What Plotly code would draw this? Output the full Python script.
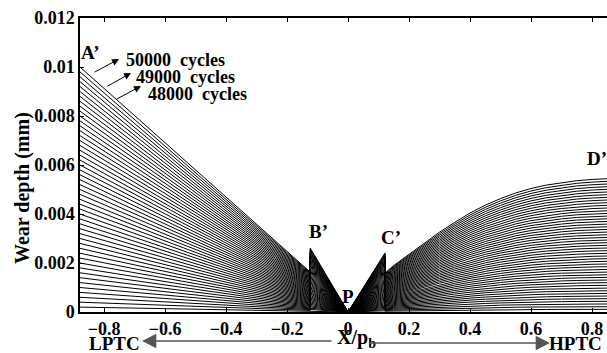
import plotly.graph_objects as go

# ---- data ----
cycles = list(range(1000, 50001, 1000))          # 50 wear curves, 1000 ... 50000 cycles
max_cycles = 50000
# profile of the 50000-cycle curve (X/p_b, wear depth mm)
base_x = [-0.879, -0.124, -0.124, 0.0, 0.121, 0.121, 0.15, 0.2, 0.25, 0.3, 0.35,
          0.4, 0.45, 0.5, 0.55, 0.6, 0.65, 0.7, 0.75, 0.8, 0.879]
base_y = [0.0100, 0.00163, 0.00261, 0.0, 0.00241, 0.00159, 0.00190, 0.00236, 0.00283,
          0.00326, 0.00366, 0.00404, 0.00436, 0.00463, 0.00486, 0.00504, 0.00518,
          0.00528, 0.00536, 0.00541, 0.00546]

x_tickvals = [-0.8, -0.6, -0.4, -0.2, 0, 0.2, 0.4, 0.6, 0.8]
x_ticktext = ["\u22120.8", "\u22120.6", "\u22120.4", "\u22120.2", "0", "0.2", "0.4", "0.6", "0.8"]
y_tickvals = [0, 0.002, 0.004, 0.006, 0.008, 0.01, 0.012]
y_ticktext = ["0", "0.002", "0.004", "0.006", "0.008", "0.01", "0.012"]

point_labels = ["A\u2019", "B\u2019", "C\u2019", "P", "D\u2019"]
point_label_px = [(90, 52), (318, 232), (391, 237), (348, 296), (597, 158)]
cycle_labels = ["50000\u00a0\u00a0cycles", "49000\u00a0\u00a0cycles", "48000\u00a0\u00a0cycles"]

FONT = "Liberation Serif"
W, H = 607, 353
L, R, T, B = 80, 0, 18, 41
PW, PH = W - L - R, H - T - B


def px2paper(px, py):
    return (px - L) / PW, (H - B - py) / PH


def b(t):
    return "<b>" + t + "</b>"


fig = go.Figure()
for c in cycles:
    f = c / max_cycles
    fig.add_trace(go.Scatter(x=base_x, y=[v * f for v in base_y], mode="lines",
                             line=dict(color="black", width=1), showlegend=False,
                             hoverinfo="skip"))

ann = []


def text_ann(t, px, py, size=19, xanchor="center", angle=0):
    xp, yp = px2paper(px, py)
    ann.append(dict(x=xp, y=yp, xref="paper", yref="paper", text=b(t), showarrow=False,
                    xanchor=xanchor, yanchor="middle", textangle=angle,
                    font=dict(family=FONT, size=size, color="black")))


def arrow_ann(hx, hy, tx, ty, size, width, color):
    xp, yp = px2paper(hx, hy)
    ann.append(dict(x=xp, y=yp, xref="paper", yref="paper", text="", showarrow=True,
                    ax=tx - hx, ay=ty - hy, arrowhead=2, arrowsize=size,
                    arrowwidth=width, arrowcolor=color))


for t, (px, py) in zip(point_labels, point_label_px):
    text_ann(t, px, py, size=19)

# cycle annotations with arrows
heads = [(119, 59), (131, 73), (141, 86)]
tails = [(93, 73), (106, 87), (115, 100)]
texts_px = [(124, 60), (134, 77), (146, 94)]
for t, (hx, hy), (tx, ty), (lx, ly) in zip(cycle_labels, heads, tails, texts_px):
    arrow_ann(hx, hy, tx, ty, 1.4, 1, "black")
    text_ann(t, lx, ly, size=18, xanchor="left")

# axis titles
text_ann("Wear depth (mm)", 22, 188, size=20, angle=-90)
text_ann("X/p<sub>b</sub>", 356, 338, size=20)

# LPTC / HPTC arrows
arrow_ann(142, 341, 333, 341, 2.2, 1.3, "#555555")
arrow_ann(550, 343, 368, 343, 2.2, 1.3, "#555555")
text_ann("LPTC", 114, 343, size=19)
text_ann("HPTC", 604, 343, size=19, xanchor="right")

fig.update_layout(
    width=W, height=H, margin=dict(l=L, r=R, t=T, b=B, pad=0),
    paper_bgcolor="white", plot_bgcolor="white", showlegend=False,
    annotations=ann,
    xaxis=dict(range=[-0.879, 0.849], tickvals=x_tickvals,
               ticktext=[b(t) for t in x_ticktext],
               showgrid=False, zeroline=False, showline=True, linecolor="black",
               linewidth=1.5, mirror="ticks", ticks="inside", ticklen=4,
               tickcolor="black",
               tickfont=dict(family=FONT, size=18, color="black")),
    yaxis=dict(range=[0, 0.012], tickvals=y_tickvals,
               ticktext=[b(t) for t in y_ticktext],
               showgrid=False, zeroline=False, showline=True, linecolor="black",
               linewidth=1.5, ticks="inside", ticklen=4, tickcolor="black",
               tickfont=dict(family=FONT, size=18, color="black")),
)

fig.write_html("out.html")
